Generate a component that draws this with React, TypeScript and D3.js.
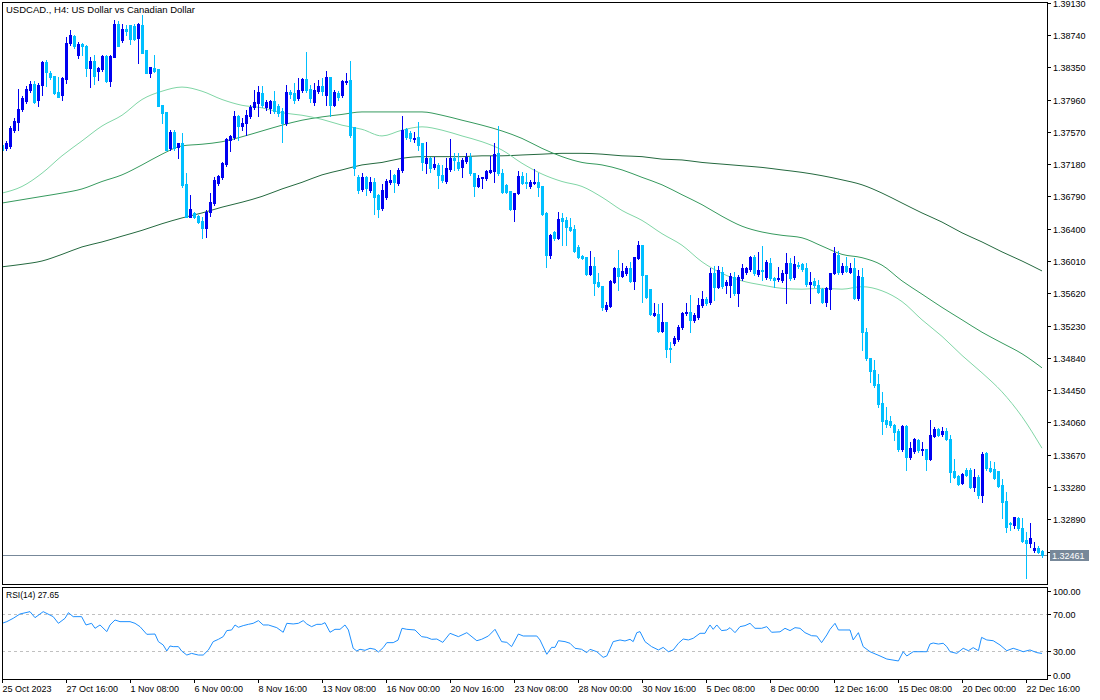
import React from 'react';
import * as d3 from 'd3';

const titleText = 'USDCAD., H4:  US Dollar vs Canadian Dollar';
const rsiLabel = 'RSI(14) 27.65';
const lastPrice = 1.32461;

const xTickBars = [0, 16, 32, 48, 64, 80, 96, 112, 128, 144, 160, 176, 192, 208, 224, 240, 256];
const xTickLabels = ['25 Oct 2023', '27 Oct 16:00', '1 Nov 08:00', '6 Nov 00:00', '8 Nov 16:00', '13 Nov 08:00', '16 Nov 00:00', '20 Nov 16:00', '23 Nov 08:00', '28 Nov 00:00', '30 Nov 16:00', '5 Dec 08:00', '8 Dec 00:00', '12 Dec 16:00', '15 Dec 08:00', '20 Dec 00:00', '22 Dec 16:00'];
const priceTicks = [1.3913, 1.3874, 1.3835, 1.3796, 1.3757, 1.3718, 1.3679, 1.3640, 1.3601, 1.3562, 1.3523, 1.3484, 1.3445, 1.3406, 1.3367, 1.3328, 1.3289, 1.3250];
const rsiTicks = [100, 70, 30, 0];
const rsiLevels = [70, 30];

const open = [1.3741,1.3737,1.3740,1.3759,1.3769,1.3784,1.3794,1.3807,1.3815,1.3795,
1.3813,1.3841,1.3828,1.3824,1.3805,1.3801,1.3821,1.3864,1.3873,1.3850,
1.3863,1.3860,1.3834,1.3842,1.3830,1.3833,1.3848,1.3818,1.3847,1.3887,
1.3868,1.3881,1.3886,1.3885,1.3870,1.3886,1.3856,1.3828,1.3834,1.3833,
1.3789,1.3781,1.3737,1.3757,1.3739,1.3743,1.3694,1.3654,1.3659,1.3655,
1.3649,1.3641,1.3660,1.3671,1.3695,1.3702,1.3718,1.3747,1.3751,1.3776,
1.3764,1.3768,1.3776,1.3787,1.3792,1.3804,1.3787,1.3786,1.3794,1.3788,
1.3782,1.3768,1.3805,1.3804,1.3798,1.3807,1.3821,1.3809,1.3793,1.3806,
1.3812,1.3801,1.3823,1.3789,1.3804,1.3801,1.3817,1.3819,1.3763,1.3702,
1.3688,1.3702,1.3687,1.3696,1.3681,1.3665,1.3678,1.3696,1.3705,1.3695,
1.3711,1.3760,1.3756,1.3748,1.3751,1.3743,1.3719,1.3725,1.3714,1.3717,
1.3705,1.3697,1.3712,1.3725,1.3720,1.3714,1.3722,1.3727,1.3707,1.3691,
1.3701,1.3701,1.3708,1.3710,1.3731,1.3707,1.3693,1.3685,1.3664,1.3683,
1.3704,1.3696,1.3691,1.3695,1.3696,1.3691,1.3659,1.3608,1.3636,1.3629,
1.3653,1.3650,1.3642,1.3640,1.3618,1.3607,1.3606,1.3585,1.3595,1.3576,
1.3571,1.3543,1.3547,1.3576,1.3592,1.3583,1.3586,1.3592,1.3577,1.3605,
1.3620,1.3584,1.3567,1.3536,1.3537,1.3517,1.3527,1.3496,1.3502,1.3507,
1.3521,1.3538,1.3539,1.3530,1.3533,1.3548,1.3555,1.3552,1.3586,1.3570,
1.3588,1.3572,1.3572,1.3582,1.3562,1.3580,1.3588,1.3591,1.3606,1.3585,
1.3590,1.3582,1.3599,1.3580,1.3579,1.3578,1.3586,1.3599,1.3582,1.3596,
1.3597,1.3592,1.3573,1.3577,1.3572,1.3567,1.3552,1.3567,1.3586,1.3608,
1.3588,1.3595,1.3588,1.3592,1.3556,1.3582,1.3515,1.3484,1.3469,1.3452,
1.3430,1.3409,1.3408,1.3403,1.3396,1.3374,1.3402,1.3364,1.3372,1.3385,
1.3373,1.3374,1.3362,1.3390,1.3398,1.3392,1.3396,1.3386,1.3347,1.3341,
1.3333,1.3349,1.3349,1.3328,1.3340,1.3319,1.3369,1.3351,1.3350,1.3347,
1.3331,1.3311,1.3285,1.3282,1.3291,1.3279,1.3264,1.3261,1.3252,1.3255,
1.3251];

const high = [1.3745,1.3746,1.3764,1.3774,1.3809,1.3800,1.3812,1.3818,1.3818,1.3816,
1.3842,1.3844,1.3830,1.3824,1.3823,1.3823,1.3871,1.3880,1.3874,1.3865,
1.3864,1.3862,1.3847,1.3850,1.3835,1.3850,1.3850,1.3850,1.3892,1.3891,
1.3887,1.3886,1.3886,1.3887,1.3888,1.3898,1.3856,1.3835,1.3850,1.3833,
1.3789,1.3781,1.3759,1.3759,1.3743,1.3756,1.3707,1.3681,1.3660,1.3656,
1.3654,1.3662,1.3683,1.3702,1.3705,1.3720,1.3749,1.3753,1.3782,1.3777,
1.3774,1.3783,1.3789,1.3807,1.3812,1.3812,1.3796,1.3796,1.3806,1.3790,
1.3786,1.3813,1.3807,1.3816,1.3822,1.3822,1.3853,1.3813,1.3816,1.3819,
1.3822,1.3830,1.3823,1.3807,1.3806,1.3819,1.3828,1.3842,1.3763,1.3705,
1.3707,1.3704,1.3702,1.3701,1.3682,1.3694,1.3700,1.3711,1.3706,1.3713,
1.3776,1.3762,1.3758,1.3757,1.3769,1.3743,1.3745,1.3727,1.3727,1.3719,
1.3717,1.3725,1.3748,1.3731,1.3731,1.3725,1.3731,1.3731,1.3707,1.3705,
1.3702,1.3711,1.3728,1.3743,1.3764,1.3712,1.3694,1.3685,1.3683,1.3710,
1.3708,1.3707,1.3699,1.3712,1.3707,1.3691,1.3660,1.3634,1.3637,1.3660,
1.3659,1.3654,1.3653,1.3644,1.3620,1.3608,1.3606,1.3613,1.3606,1.3586,
1.3571,1.3552,1.3578,1.3594,1.3614,1.3599,1.3595,1.3600,1.3606,1.3625,
1.3620,1.3584,1.3567,1.3550,1.3549,1.3550,1.3527,1.3503,1.3510,1.3524,
1.3539,1.3550,1.3560,1.3538,1.3556,1.3565,1.3558,1.3592,1.3595,1.3595,
1.3594,1.3578,1.3586,1.3588,1.3584,1.3597,1.3594,1.3607,1.3608,1.3612,
1.3619,1.3602,1.3605,1.3582,1.3594,1.3590,1.3611,1.3605,1.3607,1.3600,
1.3599,1.3599,1.3588,1.3580,1.3578,1.3568,1.3570,1.3586,1.3618,1.3613,
1.3599,1.3606,1.3599,1.3605,1.3590,1.3592,1.3520,1.3484,1.3482,1.3465,
1.3443,1.3425,1.3414,1.3404,1.3398,1.3403,1.3403,1.3382,1.3387,1.3386,
1.3382,1.3374,1.3409,1.3401,1.3399,1.3401,1.3399,1.3391,1.3362,1.3343,
1.3345,1.3351,1.3351,1.3350,1.3343,1.3370,1.3370,1.3360,1.3358,1.3347,
1.3338,1.3322,1.3286,1.3292,1.3292,1.3291,1.3274,1.3285,1.3262,1.3257,
1.3252];

const low = [1.3728,1.3735,1.3737,1.3757,1.3759,1.3782,1.3792,1.3805,1.3792,1.3788,
1.3801,1.3812,1.3821,1.3803,1.3799,1.3795,1.3816,1.3862,1.3858,1.3846,
1.3850,1.3824,1.3811,1.3815,1.3819,1.3830,1.3817,1.3812,1.3847,1.3860,
1.3866,1.3874,1.3863,1.3868,1.3840,1.3852,1.3828,1.3823,1.3829,1.3788,
1.3768,1.3735,1.3735,1.3735,1.3725,1.3690,1.3654,1.3654,1.3653,1.3647,
1.3629,1.3630,1.3655,1.3669,1.3693,1.3700,1.3716,1.3734,1.3748,1.3747,
1.3759,1.3753,1.3774,1.3784,1.3776,1.3787,1.3783,1.3780,1.3780,1.3776,
1.3745,1.3765,1.3798,1.3792,1.3795,1.3805,1.3805,1.3793,1.3789,1.3804,
1.3801,1.3789,1.3776,1.3788,1.3796,1.3799,1.3815,1.3751,1.3705,1.3683,
1.3685,1.3681,1.3684,1.3658,1.3654,1.3662,1.3676,1.3694,1.3684,1.3693,
1.3708,1.3748,1.3746,1.3745,1.3735,1.3711,1.3707,1.3708,1.3712,1.3689,
1.3696,1.3695,1.3710,1.3711,1.3711,1.3702,1.3719,1.3705,1.3679,1.3690,
1.3689,1.3699,1.3707,1.3696,1.3705,1.3683,1.3683,1.3662,1.3649,1.3682,
1.3694,1.3689,1.3689,1.3694,1.3679,1.3656,1.3594,1.3605,1.3626,1.3627,
1.3620,1.3620,1.3637,1.3612,1.3605,1.3603,1.3584,1.3584,1.3560,1.3570,
1.3542,1.3541,1.3546,1.3574,1.3566,1.3582,1.3584,1.3576,1.3567,1.3603,
1.3552,1.3556,1.3536,1.3535,1.3515,1.3515,1.3485,1.3479,1.3500,1.3504,
1.3519,1.3536,1.3515,1.3527,1.3531,1.3546,1.3548,1.3549,1.3554,1.3568,
1.3568,1.3562,1.3558,1.3560,1.3547,1.3578,1.3585,1.3589,1.3584,1.3583,
1.3578,1.3579,1.3578,1.3570,1.3577,1.3576,1.3550,1.3578,1.3579,1.3592,
1.3589,1.3571,1.3550,1.3570,1.3562,1.3550,1.3547,1.3543,1.3585,1.3585,
1.3585,1.3588,1.3586,1.3555,1.3554,1.3494,1.3482,1.3455,1.3449,1.3425,
1.3392,1.3401,1.3401,1.3385,1.3372,1.3372,1.3349,1.3362,1.3369,1.3370,
1.3367,1.3349,1.3361,1.3389,1.3390,1.3390,1.3385,1.3334,1.3339,1.3331,
1.3332,1.3341,1.3327,1.3323,1.3315,1.3310,1.3349,1.3346,1.3338,1.3328,
1.3291,1.3274,1.3276,1.3279,1.3276,1.3262,1.3218,1.3256,1.3250,1.3249,
1.3244];

const close = [1.3735,1.3743,1.3762,1.3770,1.3784,1.3798,1.3809,1.3815,1.3793,1.3813,
1.3841,1.3829,1.3823,1.3804,1.3799,1.3822,1.3864,1.3874,1.3860,1.3863,
1.3860,1.3834,1.3842,1.3824,1.3834,1.3848,1.3818,1.3848,1.3887,1.3860,
1.3881,1.3879,1.3869,1.3869,1.3887,1.3852,1.3828,1.3835,1.3831,1.3788,
1.3780,1.3735,1.3757,1.3737,1.3743,1.3693,1.3654,1.3664,1.3654,1.3648,
1.3641,1.3660,1.3672,1.3699,1.3704,1.3719,1.3748,1.3752,1.3776,1.3764,
1.3768,1.3777,1.3787,1.3793,1.3805,1.3789,1.3793,1.3794,1.3782,1.3780,
1.3768,1.3805,1.3803,1.3796,1.3807,1.3821,1.3807,1.3798,1.3807,1.3812,
1.3806,1.3823,1.3789,1.3805,1.3799,1.3818,1.3818,1.3753,1.3713,1.3687,
1.3702,1.3689,1.3696,1.3678,1.3664,1.3687,1.3697,1.3699,1.3696,1.3711,
1.3759,1.3751,1.3749,1.3749,1.3741,1.3720,1.3725,1.3713,1.3718,1.3705,
1.3699,1.3713,1.3725,1.3723,1.3713,1.3723,1.3727,1.3707,1.3691,1.3701,
1.3702,1.3710,1.3711,1.3730,1.3707,1.3684,1.3684,1.3664,1.3683,1.3704,
1.3695,1.3695,1.3696,1.3696,1.3690,1.3658,1.3608,1.3632,1.3629,1.3652,
1.3649,1.3642,1.3638,1.3613,1.3606,1.3605,1.3585,1.3595,1.3574,1.3571,
1.3546,1.3548,1.3577,1.3592,1.3583,1.3589,1.3592,1.3577,1.3606,1.3620,
1.3584,1.3558,1.3537,1.3538,1.3517,1.3527,1.3495,1.3495,1.3508,1.3521,
1.3538,1.3539,1.3530,1.3536,1.3548,1.3555,1.3550,1.3586,1.3570,1.3590,
1.3571,1.3576,1.3583,1.3562,1.3582,1.3592,1.3592,1.3606,1.3586,1.3590,
1.3589,1.3600,1.3580,1.3578,1.3580,1.3586,1.3599,1.3580,1.3597,1.3595,
1.3591,1.3573,1.3576,1.3572,1.3564,1.3552,1.3568,1.3586,1.3611,1.3588,
1.3595,1.3589,1.3592,1.3556,1.3583,1.3515,1.3484,1.3468,1.3451,1.3428,
1.3408,1.3404,1.3403,1.3395,1.3374,1.3402,1.3364,1.3375,1.3386,1.3373,
1.3374,1.3362,1.3391,1.3398,1.3391,1.3396,1.3386,1.3346,1.3340,1.3332,
1.3344,1.3343,1.3328,1.3340,1.3319,1.3368,1.3351,1.3347,1.3339,1.3329,
1.3310,1.3280,1.3284,1.3292,1.3279,1.3263,1.3261,1.3267,1.3255,1.3250,
1.32461];

const maBars = [0,5,10,15,20,25,30,35,40,45,50,55,60,65,70,75,80,85,90,95,100,105,110,115,120,125,130,135,140,145,150,155,160,165,170,175,180,185,190,195,200,205,210,215,220,225,230,235,240,245,250,255,260];
const maFast = [1.3683,1.3691,1.3707,1.3728,1.3746,1.3764,1.3777,1.3796,1.3806,1.3811,1.3806,1.3796,1.3789,1.3786,1.3780,1.3777,1.3772,1.3765,1.3760,1.3752,1.3759,1.3763,1.3759,1.3752,1.3745,1.3735,1.3719,1.3706,1.3697,1.3691,1.3678,1.3662,1.3650,1.3634,1.3620,1.3600,1.3586,1.3577,1.3572,1.3568,1.3567,1.3568,1.3567,1.3570,1.3565,1.3552,1.3530,1.3510,1.3487,1.3466,1.3443,1.3413,1.3375];
const maMid = [1.3671,1.3675,1.3679,1.3683,1.3688,1.3697,1.3705,1.3717,1.3730,1.3740,1.3742,1.3745,1.3751,1.3758,1.3765,1.3771,1.3775,1.3778,1.3781,1.3781,1.3781,1.3781,1.3777,1.3771,1.3765,1.3758,1.3749,1.3737,1.3727,1.3720,1.3717,1.3711,1.3702,1.3693,1.3681,1.3669,1.3655,1.3643,1.3636,1.3632,1.3629,1.3619,1.3609,1.3605,1.3596,1.3577,1.3561,1.3545,1.3530,1.3515,1.3502,1.3489,1.3472];
const maSlow = [1.3594,1.3597,1.3601,1.3609,1.3618,1.3624,1.3631,1.3638,1.3646,1.3653,1.3659,1.3666,1.3672,1.3679,1.3688,1.3696,1.3705,1.3711,1.3717,1.3720,1.3725,1.3727,1.3727,1.3727,1.3728,1.3728,1.3729,1.3730,1.3731,1.3731,1.3730,1.3728,1.3727,1.3724,1.3723,1.3720,1.3718,1.3716,1.3714,1.3711,1.3708,1.3704,1.3699,1.3693,1.3683,1.3671,1.3659,1.3648,1.3635,1.3624,1.3612,1.3601,1.3589];

const rsiBars = [0,1.2,2.8,4.5,7,8.25,10.3,12.8,14.1,15.75,16.6,17.8,19.9,21,22.4,23.25,24.5,26.2,27,28.25,29.5,32,33.25,34.5,36.2,38.25,39.1,40.3,41.2,42,42.8,44.1,44.9,46.2,47.4,49.1,50.3,51.6,52.8,54.1,55.3,56.2,57.4,58.25,59.1,60.3,61.6,62.8,64.1,65.3,66.6,68.7,70.3,71.2,72.8,74.1,75.3,76.2,77.4,78.7,79.9,80.75,82,83.25,84.5,85.75,86.6,87.8,88.7,89.5,90.75,92,93.25,94.1,95.3,96.2,97.8,99,100,101.2,103.25,104.9,106.2,107.4,108.7,110.2,112,114.1,116.2,118.7,119.9,121.6,123.25,124.9,126.2,127.4,129.1,130.3,133.7,134.5,136.2,137.4,138.25,139.1,140.75,142,143.25,144.9,146.2,147,148.7,150.3,151.2,152.8,154.5,155.75,157,157.8,158.7,159.5,160.75,162.4,164.1,165.3,166.6,167.8,169.1,170.3,171.6,172.8,174.5,175.75,176.2,177,177.8,178.7,179.9,181.2,182,183.25,184.5,185.75,187,188.25,189.9,191.2,192.4,194.5,195.75,197,198.25,199.5,200.75,202.4,203.7,204.9,206.2,207,208.25,209.1,212,212.8,214.1,215.3,217,219.5,221.2,224.1,225.3,226.2,227.8,229.5,231.2,232,232.8,234.1,235.3,236.2,237,238.7,240.3,241.6,242.8,244.1,244.9,246.2,247.8,249.5,251.2,252.8,254.1,255.3,257,258.7,260];
const rsiValues = [60.2,62.0,65.6,70.3,72.8,66.3,72.8,67.4,60.2,65.6,71.7,67.4,67.4,58.4,60.2,54.8,58.4,51.2,58.4,63.8,62.0,62.0,60.2,56.6,48.3,48.6,40.4,36.8,30.3,35.7,35.0,35.0,30.3,25.9,27.7,25.9,25.9,31.4,40.4,42.9,45.8,52.3,53.0,58.4,55.9,57.7,59.1,60.2,63.1,58.4,58.4,55.5,50.5,60.2,59.5,60.2,63.1,59.5,56.6,59.1,59.1,60.9,50.5,53.7,53.7,58.4,53.0,33.2,30.3,32.1,31.0,33.2,32.1,29.2,33.9,39.3,39.3,42.0,54.8,53.7,53.0,45.8,45.0,42.9,43.2,39.6,49.4,45.8,50.1,41.4,42.9,46.5,53.7,40.4,39.6,35.0,48.6,46.5,46.5,42.2,26.7,34.2,34.2,41.4,40.4,38.6,33.2,32.1,28.5,32.1,29.5,23.4,24.9,40.4,42.2,41.1,42.9,40.4,50.1,51.2,40.4,35.0,31.4,34.2,29.5,31.4,38.6,43.2,42.2,44.0,49.4,49.4,53.0,58.4,53.7,58.4,52.3,53.0,55.5,50.1,56.6,57.7,60.2,54.8,54.8,56.6,50.5,51.0,54.8,52.3,55.5,54.8,50.1,46.8,46.5,39.3,47.6,53.7,60.2,53.0,53.0,42.2,50.1,35.0,29.5,24.9,21.6,19.5,29.5,24.9,29.5,29.5,29.5,37.8,38.9,37.8,38.6,35.0,29.5,27.7,33.2,30.6,33.9,30.6,45.0,42.2,41.4,36.8,30.6,33.2,31.4,29.5,31.4,28.5,27.65];

const FONT = '"Liberation Sans", Arial, sans-serif';
const BULL = '#0000f0';
const BEAR = '#00bfff';

export default function App() {
  const W = 1100, H = 700;
  const L = 2, R = 1047, mainTop = 2, mainBot = 584, rsiTop = 587, rsiBot = 679;
  const n = close.length;
  const x = d3.scaleLinear().domain([0, 260]).range([2, 1042]);
  const y = d3.scaleLinear().domain([1.3211, 1.3913]).range([584, 2.6]);
  const yr = d3.scaleLinear().domain([0, 100]).range([679, 586.5]);

  const maLine = (vals: number[]) =>
    d3.line<number>().x((_, i) => x(maBars[i])).y(v => y(v)).curve(d3.curveMonotoneX)(vals) || '';
  const rsiPath = d3.line<number>().x((_, i) => x(rsiBars[i])).y(v => yr(v))(rsiValues) || '';

  const candles = d3.range(n).map(i => {
    const cx = Math.round(x(i));
    const yo = y(open[i]), yc = y(close[i]);
    const top = Math.round(Math.min(yo, yc));
    const bot = Math.round(Math.max(yo, yc));
    const hy = Math.round(y(high[i]));
    const ly = Math.round(y(low[i]));
    const col = close[i] >= open[i] ? BULL : BEAR;
    return (
      <g key={i} fill={col}>
        <rect x={cx} y={hy} width={1} height={Math.max(1, ly - hy + 1)} />
        <rect x={cx - 1} y={top} width={3} height={Math.max(1, bot - top + 1)} />
      </g>
    );
  });

  const lastY = Math.round(y(lastPrice)) + 0.5;

  return (
    <svg width={W} height={H} style={{ position: 'absolute', left: 0, top: 0, background: '#fff' }} fontFamily={FONT}>
      <defs>
        <clipPath id="mainClip"><rect x={L + 1} y={mainTop + 1} width={R - L - 1} height={mainBot - mainTop - 1} /></clipPath>
        <clipPath id="rsiClip"><rect x={L + 1} y={rsiTop + 1} width={R - L - 1} height={rsiBot - rsiTop - 1} /></clipPath>
      </defs>
      <rect x={0} y={0} width={W} height={H} fill="#fff" />

      <g clipPath="url(#mainClip)">
        <line x1={L} x2={R} y1={lastY} y2={lastY} stroke="#778899" strokeWidth={1} />
        <path d={maLine(maSlow)} fill="none" stroke="#24693f" strokeWidth={1} />
        <path d={maLine(maMid)} fill="none" stroke="#369a5e" strokeWidth={1} />
        <path d={maLine(maFast)} fill="none" stroke="#80d6a6" strokeWidth={1} />
        <g shapeRendering="crispEdges">{candles}</g>
      </g>

      <g clipPath="url(#rsiClip)">
        {rsiLevels.map(v => (
          <line key={v} x1={L} x2={R} y1={Math.round(yr(v)) + 0.5} y2={Math.round(yr(v)) + 0.5} stroke="#c0c0c0" strokeDasharray="3,3" />
        ))}
        <path d={rsiPath} fill="none" stroke="#1e90ff" strokeWidth={1} />
      </g>

      <g shapeRendering="crispEdges" fill="none" stroke="#000">
        <rect x={L + 0.5} y={mainTop + 0.5} width={R - L} height={mainBot - mainTop} />
        <rect x={L + 0.5} y={rsiTop + 0.5} width={R - L} height={rsiBot - rsiTop} />
      </g>

      <text x={6} y={13} fontSize={9.5} fill="#000">{titleText}</text>
      <text x={6} y={598} fontSize={8.5} fill="#000">{rsiLabel}</text>

      {priceTicks.map(p => {
        const ty = Math.round(y(p)) + 0.5;
        return (
          <g key={p}>
            <line x1={R} x2={R + 4} y1={ty} y2={ty} stroke="#000" shapeRendering="crispEdges" />
            <text x={R + 6} y={ty + 3.5} fontSize={9} fill="#000">{p.toFixed(5)}</text>
          </g>
        );
      })}

      <rect x={1050} y={Math.round(y(lastPrice)) - 5} width={39} height={11} fill="#778899" />
      <text x={1052} y={Math.round(y(lastPrice)) + 4} fontSize={9} fill="#fff">{lastPrice.toFixed(5)}</text>

      {rsiTicks.map(v => {
        const ty = Math.min(675, Math.max(591, Math.round(yr(v)))) + 0.5;
        return (
          <g key={v}>
            <line x1={R} x2={R + 4} y1={ty} y2={ty} stroke="#000" shapeRendering="crispEdges" />
            <text x={R + 6} y={ty + 3.5} fontSize={9} fill="#000">{v.toFixed(2)}</text>
          </g>
        );
      })}

      {xTickBars.map((b, i) => {
        const tx = Math.round(x(b)) + 0.5;
        return (
          <g key={b}>
            <line x1={tx} x2={tx} y1={rsiBot} y2={rsiBot + 4} stroke="#000" shapeRendering="crispEdges" />
            <text x={tx} y={691.5} fontSize={9} fill="#000">{xTickLabels[i]}</text>
          </g>
        );
      })}
    </svg>
  );
}
